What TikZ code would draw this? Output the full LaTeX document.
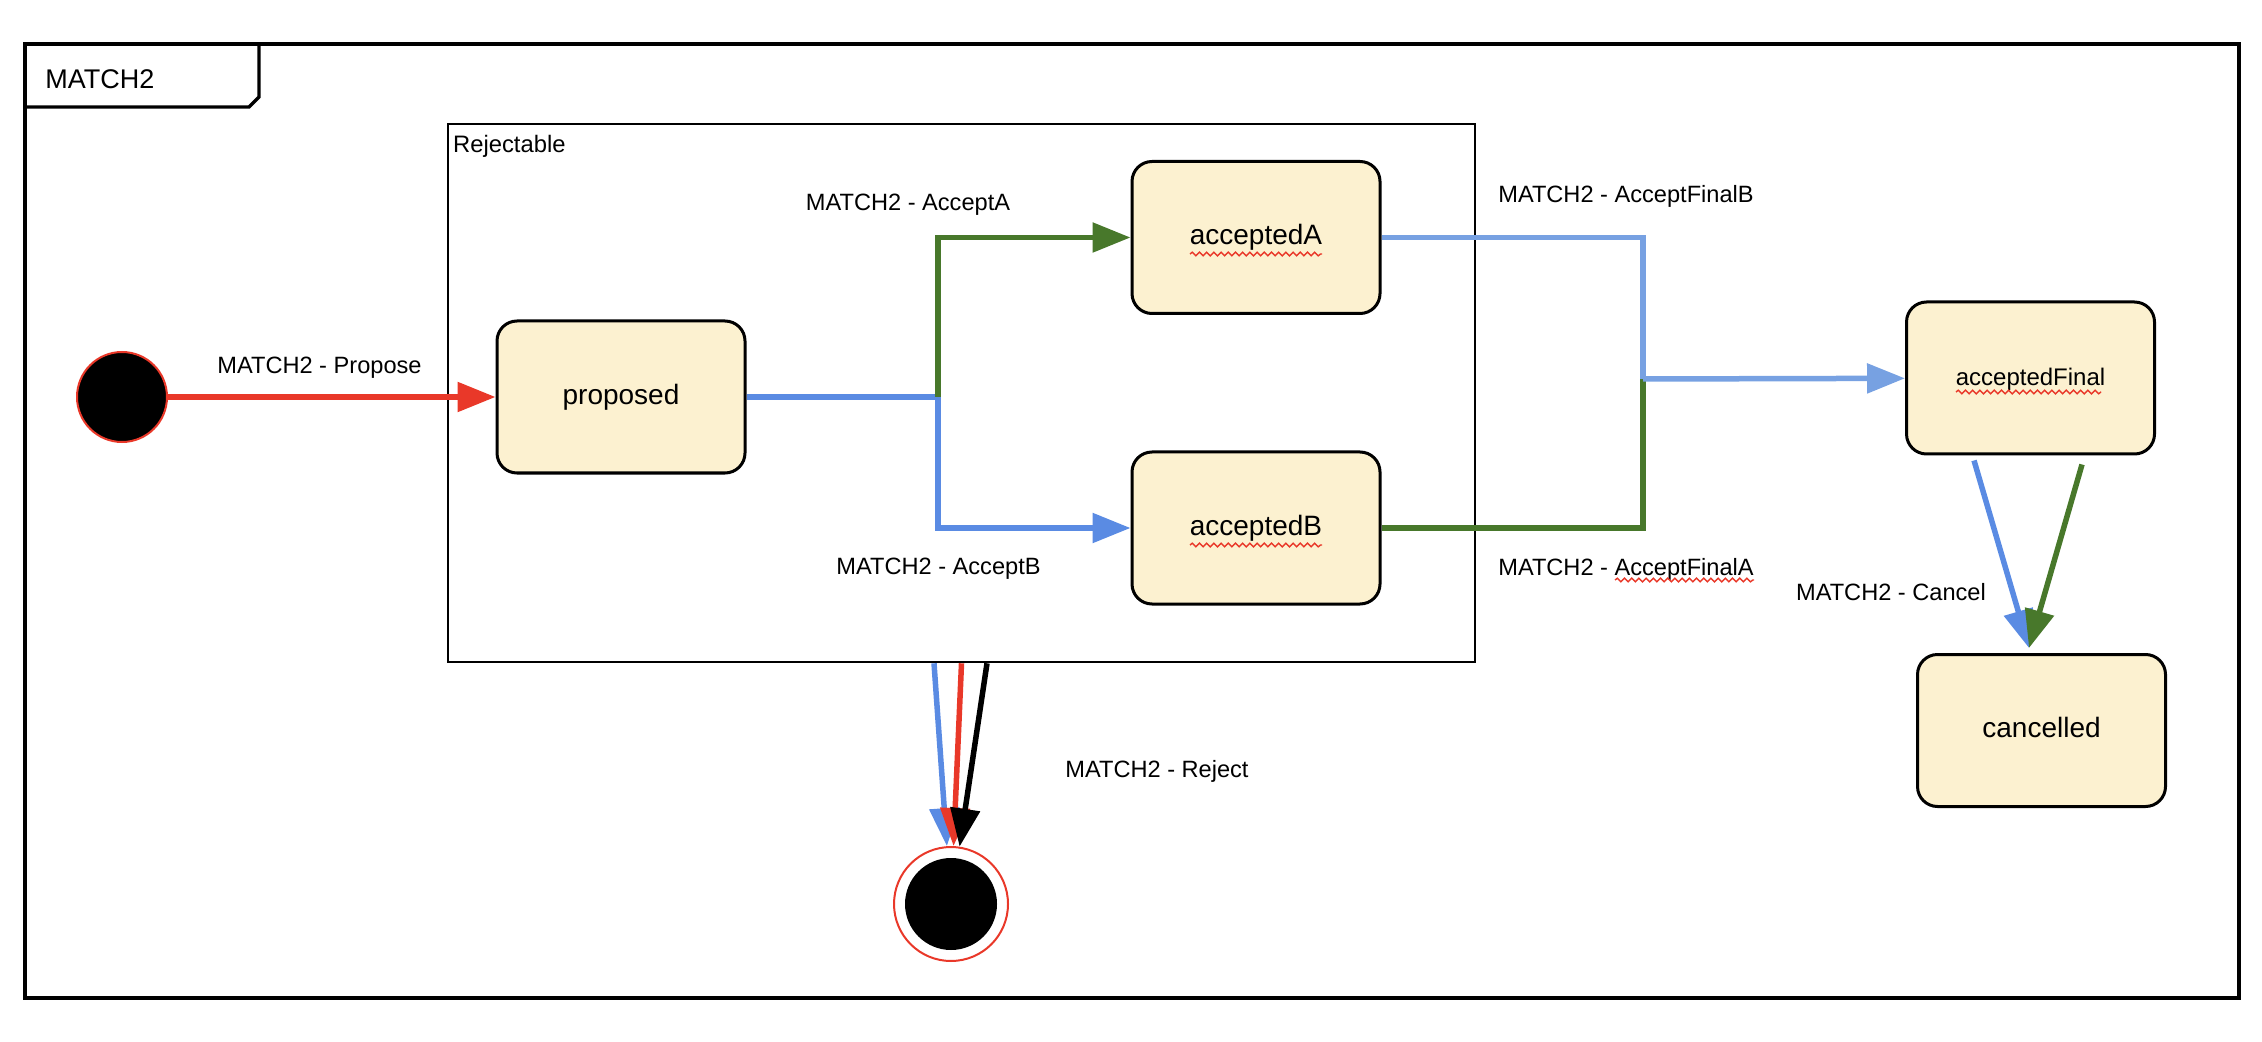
\documentclass[tikz,border=0pt]{standalone}
\usepackage{fontspec}
\setmainfont{Liberation Sans}
\usetikzlibrary{arrows.meta,decorations.pathmorphing}

\definecolor{stateFill}{HTML}{FCF1D0}
\definecolor{redLine}{HTML}{E93829}
\definecolor{greenLine}{HTML}{48782B}
\definecolor{blueLine}{HTML}{5A8BE3}
\definecolor{lightBlue}{HTML}{77A1E2}

\begin{document}
\begin{tikzpicture}[x=0.5pt, y=-0.5pt,
    state/.style={draw, line width=1.5pt, fill=stateFill, rounded corners=10pt,
        minimum width=124pt, minimum height=76pt, text height=0.74em, text depth=0pt,
        font=\fontsize{14}{16}\selectfont},
    link/.style={line width=2.75pt},
    trans/.style={link, -{Triangle[length=19pt, width=14.5pt]}},
    lbl/.style={font=\fontsize{11.8}{14}\selectfont, anchor=base, inner sep=0pt},
    spell/.style={redLine, line width=0.7pt, decorate,
        decoration={snake, amplitude=0.9pt, segment length=3.6pt}}]
    \useasboundingbox (0,0) rectangle (2262,1042);

    % Frame with tab
    \draw[line width=1.6pt] (25,44) rectangle (2239,998);
    \draw[line width=1.6pt] (25,107) -- (249,107) -- (259,97) -- (259,44);
    \node[anchor=base west, inner sep=0pt, font=\fontsize{13.5}{16}\selectfont] (title) at (45,89) {MATCH2};

    % Composite state
    \node[draw, line width=1.3pt, minimum width=513.5pt, minimum height=269pt] (rej) at (961.5,393) {};
    \node[anchor=base west, inner sep=0pt, font=\fontsize{11.9}{14}\selectfont] (rejTitle)
        at ([shift={(6,30)}]rej.north west) {Rejectable};

    % Pseudo states
    \node[circle, fill=black, draw=redLine, line width=1pt, minimum size=45pt, inner sep=0pt] (init) at (122,397) {};
    \node[circle, draw=redLine, line width=1pt, minimum size=57pt, inner sep=0pt] (final) at (951,904) {};
    \node[circle, fill=black, minimum size=46pt, inner sep=0pt] (finalDot) at (final) {};

    % States
    \node[state] (proposed) at (621,397) {proposed};
    \node[state] (acceptedA) at (1256,237.5) {acceptedA};
    \node[state] (acceptedB) at (1256,528) {acceptedB};
    \node[state, font=\fontsize{12}{14}\selectfont] (acceptedFinal) at (2030.5,378) {acceptedFinal};
    \node[state] (cancelled) at (2041.5,730.5) {cancelled};

    \coordinate (fork) at (938,397);
    \coordinate (join) at (1643,379);
    \coordinate (cancelTip) at ([shift={(-12.5,-5)}]cancelled.north);

    % Transitions
    \draw[trans, redLine] (init) -- (proposed);
    \draw[link, blueLine] (proposed) -- (fork);
    \draw[trans, greenLine] (fork) |- (acceptedA);
    \draw[trans, blueLine] (fork) |- (acceptedB);
    \draw[link, greenLine] (acceptedB) -| (join);
    \draw[link, lightBlue] (acceptedA) -| (join);
    \draw[trans, lightBlue] (join) -- (acceptedFinal);
    \draw[trans, blueLine] ([shift={(-56.5,5)}]acceptedFinal.south) -- (cancelTip);
    \draw[trans, greenLine] ([shift={(51.5,9)}]acceptedFinal.south) -- (cancelTip);
    \draw[trans, blueLine] ([xshift=-13.75pt]rej.south) -- (final);
    \draw[trans, redLine] (rej.south) -- (final);
    \draw[trans, black] ([xshift=12.75pt]rej.south) -- (final);

    % Labels
    \node[lbl] (lPropose) at (319.5,374) {MATCH2 - Propose};
    \node[lbl] (lAcceptA) at (908,211) {MATCH2 - AcceptA};
    \node[lbl] (lAcceptB) at (938.5,574) {MATCH2 - AcceptB};
    \node[lbl] (lFinalB) at (1626,203) {MATCH2 - AcceptFinalB};
    \node[lbl] (lFinalA) at (1626,575) {MATCH2 - AcceptFinalA};
    \node[lbl] (lCancel) at (1891,600) {MATCH2 - Cancel};
    \node[lbl] (lReject) at (1157,777) {MATCH2 - Reject};

    % Spell check marks
    \draw[spell] ([shift={(-66,16.5)}]acceptedA.center) -- ([shift={(66,16.5)}]acceptedA.center);
    \draw[spell] ([shift={(-66,17)}]acceptedB.center) -- ([shift={(66,17)}]acceptedB.center);
    \draw[spell] ([shift={(-74.5,14)}]acceptedFinal.center) -- ([shift={(70.5,14)}]acceptedFinal.center);
    \draw[spell] ([shift={(-139,5)}]lFinalA.base east) -- ([shift={(0,5)}]lFinalA.base east);
\end{tikzpicture}
\end{document}
